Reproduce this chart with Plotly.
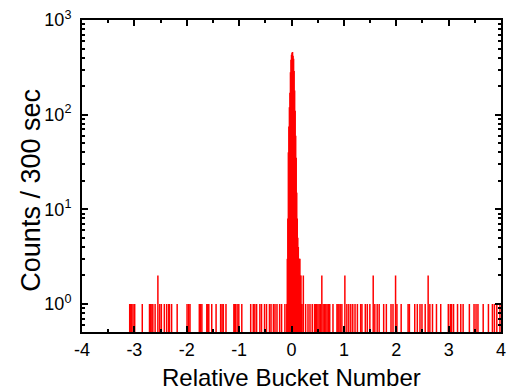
import plotly.graph_objects as go

# Single-count events (count = 1), relative bucket positions
single_x = [-3.089, -3.07, -3.05, -3.025, -2.994, -2.849, -2.711, -2.69, -2.666, -2.647,
            -2.604, -2.515, -2.485, -2.428, -2.383, -2.345, -2.330, -2.289, -2.183,
            -1.994, -1.962, -1.938, -1.760, -1.736, -1.711, -1.617, -1.598, -1.579,
            -1.523, -1.440, -1.353, -1.326, -1.302, -1.251, -1.100, -1.085, -1.070,
            -1.038, -1.006, -0.949, -0.779, -0.730, -0.700, -0.666, -0.604, -0.572,
            -0.515, -0.477, -0.421, -0.391, -0.345, -0.315, -0.277, -0.226, -0.189,
            -0.126, 0.270, 0.315, 0.353, 0.396, 0.440, 0.459, 0.477, 0.504, 0.528,
            0.553, 0.604, 0.629, 0.655, 0.679, 0.704, 0.730, 0.792, 0.868, 0.887,
            0.906, 0.930, 0.962, 1.057, 1.094, 1.132, 1.170, 1.213, 1.258, 1.321,
            1.345, 1.409, 1.447, 1.496, 1.591, 1.636, 1.674, 1.760, 1.811, 1.900,
            1.938, 2.013, 2.094, 2.226, 2.251, 2.353, 2.402, 2.453, 2.491, 2.553,
            2.642, 2.692, 2.768, 2.849, 2.994, 3.032, 3.057, 3.094, 3.170, 3.232,
            3.277, 3.396, 3.485, 3.523, 3.560, 3.660, 3.760, 3.836, 3.874, 3.92, 3.98]

# Double-count events (count = 2)
double_x = [-2.551, 0.226, 0.579, 1.019, 1.560, 1.987, 2.609]

# Central peak: bucket positions and counts
peak_x = [-0.09, -0.08, -0.07, -0.06, -0.05, -0.04, -0.03, -0.02, -0.01, 0.00,
          0.01, 0.02, 0.03, 0.04, 0.05, 0.06, 0.07, 0.08, 0.09, 0.10,
          0.11, 0.12, 0.13, 0.14, 0.15, 0.16, 0.17, 0.18, 0.19, 0.20]
peak_y = [1, 3, 8, 40, 75, 120, 170, 280, 380, 430,
          450, 460, 420, 390, 290, 180, 110, 60, 35, 15,
          8, 5, 4, 3, 3, 3, 2, 2, 1, 1]

x_ticks = [-4, -3, -2, -1, 0, 1, 2, 3, 4]
x_tick_text = ["-4", "-3", "-2", "-1", "0", "1", "2", "3", "4"]
y_ticks = [1, 10, 100, 1000]
y_tick_text = ["10<sup>0</sup>", "10<sup>1</sup>", "10<sup>2</sup>", "10<sup>3</sup>"]

xs = list(single_x) + list(double_x) + list(peak_x)
ys = [1] * len(single_x) + [2] * len(double_x) + list(peak_y)

BASE = 0.1
lx, ly = [], []
for xv, yv in zip(xs, ys):
    lx += [xv, xv, None]
    ly += [BASE, yv, None]

fig = go.Figure()
fig.add_trace(go.Scatter(x=lx, y=ly, mode="lines",
                         line=dict(color="#ff0000", width=1.5),
                         hoverinfo="skip", showlegend=False))

font = "Liberation Sans, Arial, sans-serif"
fig.update_layout(
    width=511, height=390,
    margin=dict(l=82, r=5, t=20, b=58),
    paper_bgcolor="white", plot_bgcolor="white",
    font=dict(family=font, size=18, color="black"),
    showlegend=False,
    annotations=[
        dict(text="Relative Bucket Number", xref="paper", yref="paper",
             x=0.499, y=-0.147, xanchor="center", yanchor="middle",
             showarrow=False, font=dict(size=24)),
        dict(text="Counts / 300 sec", xref="paper", yref="paper",
             x=-0.1226, y=0.455, xanchor="center", yanchor="middle",
             textangle=-90, showarrow=False, font=dict(size=27)),
    ],
)
fig.update_xaxes(
    range=[-4, 4], tickvals=x_ticks, ticktext=x_tick_text,
    ticks="inside", ticklen=6, tickwidth=2, tickcolor="black",
    minor=dict(ticks="inside", ticklen=3, tickwidth=2, tickcolor="black", dtick=0.5),
    showline=True, linewidth=2, linecolor="black", mirror="allticks",
    showgrid=False, zeroline=False,
    tickfont=dict(size=18),
)
fig.update_yaxes(
    type="log", range=[-0.296, 3.0],
    tickvals=y_ticks, ticktext=y_tick_text,
    ticks="inside", ticklen=6, tickwidth=2, tickcolor="black",
    minor=dict(ticks="inside", ticklen=3, tickwidth=1.5, tickcolor="black", dtick="D1"),
    showline=True, linewidth=2, linecolor="black", mirror="allticks",
    showgrid=False, zeroline=False,
    tickfont=dict(size=18), ticklabelstandoff=5,
)

fig.write_html("out.html")
